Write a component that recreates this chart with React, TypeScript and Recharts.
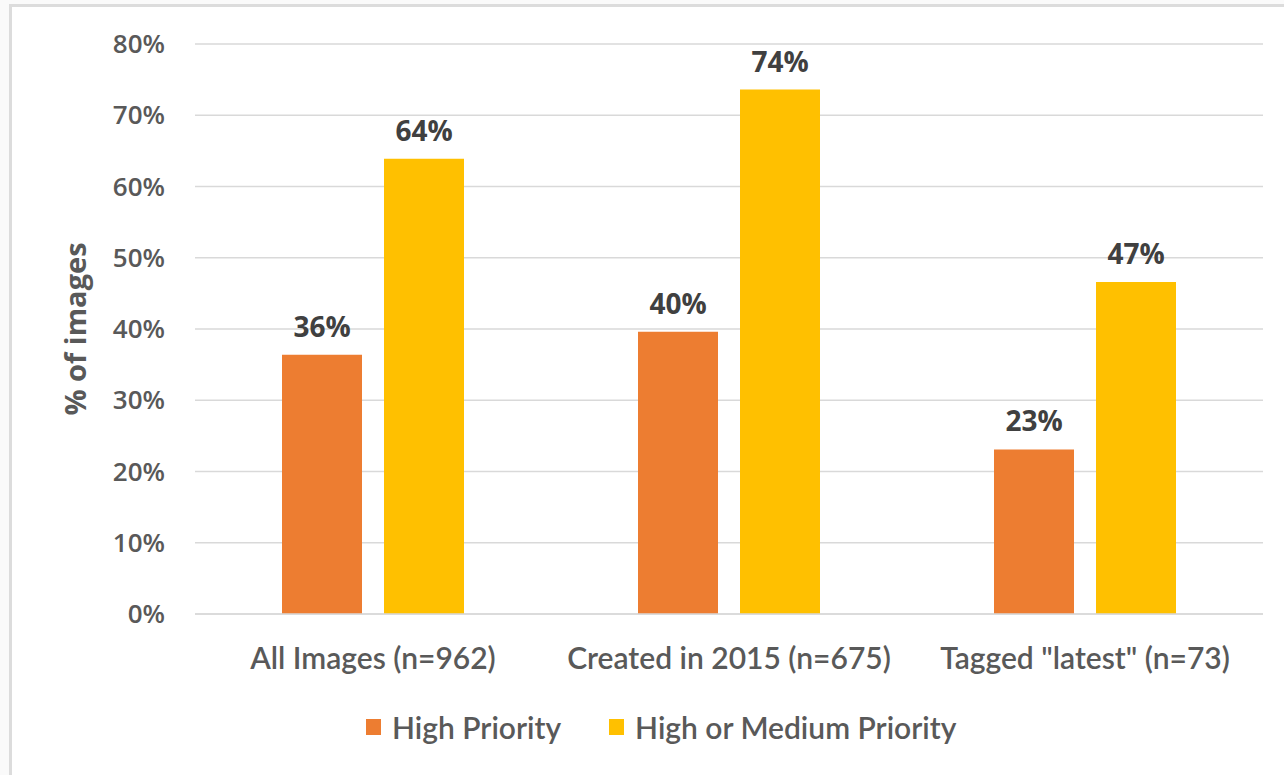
import { BarChart, Bar, XAxis, YAxis, CartesianGrid, Legend, LabelList, Label } from "recharts";

const categories = ["All Images (n=962)", "Created in 2015 (n=675)", 'Tagged "latest" (n=73)'];
const highPriority = [36.4, 39.6, 23.1];
const highOrMedium = [63.9, 73.6, 46.6];
const yTicks = [0, 10, 20, 30, 40, 50, 60, 70, 80];
const seriesNames = ["High Priority", "High or Medium Priority"];

const ORANGE = "#ED7D31";
const YELLOW = "#FFC000";
const GRAY = "#595959";

const data = categories.map((name, i) => ({
  name,
  high: highPriority[i],
  highMed: highOrMedium[i],
}));

const renderLegend = () => (
  <div style={{ display: "flex", alignItems: "center", height: 30, paddingLeft: 366 }}>
    {[ORANGE, YELLOW].map((c, i) => (
      <div key={i} style={{ display: "flex", alignItems: "center", marginRight: 48 }}>
        <span style={{ display: "inline-block", width: 15, height: 16, background: c, marginRight: 11 }} />
        <span style={{ fontFamily: "Lato", fontSize: 30, color: GRAY, fontWeight: 600 }}>{seriesNames[i]}</span>
      </div>
    ))}
  </div>
);

export default function App() {
  return (
    <div style={{ position: "absolute", left: 0, top: 0, width: 1284, height: 775, overflow: "hidden", background: "#fafafa" }}>
      <div
        style={{
          position: "absolute",
          left: 9,
          top: 4,
          width: 1300,
          height: 800,
          border: "3px solid #dcdcdc",
          background: "#fff",
        }}
      />
      <div style={{ position: "absolute", left: 0, top: 0 }}>
        <BarChart
          width={1284}
          height={775}
          data={data}
          margin={{ top: 44, right: 21, left: 60, bottom: 33 }}
          barSize={80}
          barGap={22}
        >
          <CartesianGrid vertical={false} stroke="#d9d9d9" strokeWidth={1.5} />
          <XAxis
            dataKey="name"
            height={98}
            axisLine={{ stroke: "#d9d9d9", strokeWidth: 1.5 }}
            tickLine={false}
            tickSize={0}
            tickMargin={34}
            tick={{ fill: GRAY, fontSize: 30, fontFamily: "Lato", fontWeight: 600 }}
          />
          <YAxis
            width={135}
            domain={[0, 80]}
            ticks={yTicks}
            tickFormatter={(v) => `${v}%`}
            axisLine={false}
            tickLine={false}
            tickSize={0}
            tickMargin={30}
            tick={{ fill: GRAY, fontSize: 26, fontFamily: "Open Sans", fontWeight: 600 }}
          >
            <Label
              value="% of images"
              angle={-90}
              position="insideLeft"
              offset={16}
              style={{ fill: GRAY, fontSize: 29, fontFamily: "Open Sans", fontWeight: 700, textAnchor: "middle" }}
            />
          </YAxis>
          <Legend verticalAlign="bottom" content={renderLegend} wrapperStyle={{ top: 712, left: 0, width: 1284 }} />
          <Bar dataKey="high" name={seriesNames[0]} fill={ORANGE} isAnimationActive={false}>
            <LabelList
              dataKey="high"
              position="top"
              offset={18}
              formatter={(v: number) => `${Math.round(v)}%`}
              style={{ fill: "#404040", fontSize: 28, fontFamily: "Open Sans", fontWeight: 700 }}
            />
          </Bar>
          <Bar dataKey="highMed" name={seriesNames[1]} fill={YELLOW} isAnimationActive={false}>
            <LabelList
              dataKey="highMed"
              position="top"
              offset={18}
              formatter={(v: number) => `${Math.round(v)}%`}
              style={{ fill: "#404040", fontSize: 28, fontFamily: "Open Sans", fontWeight: 700 }}
            />
          </Bar>
        </BarChart>
      </div>
    </div>
  );
}
